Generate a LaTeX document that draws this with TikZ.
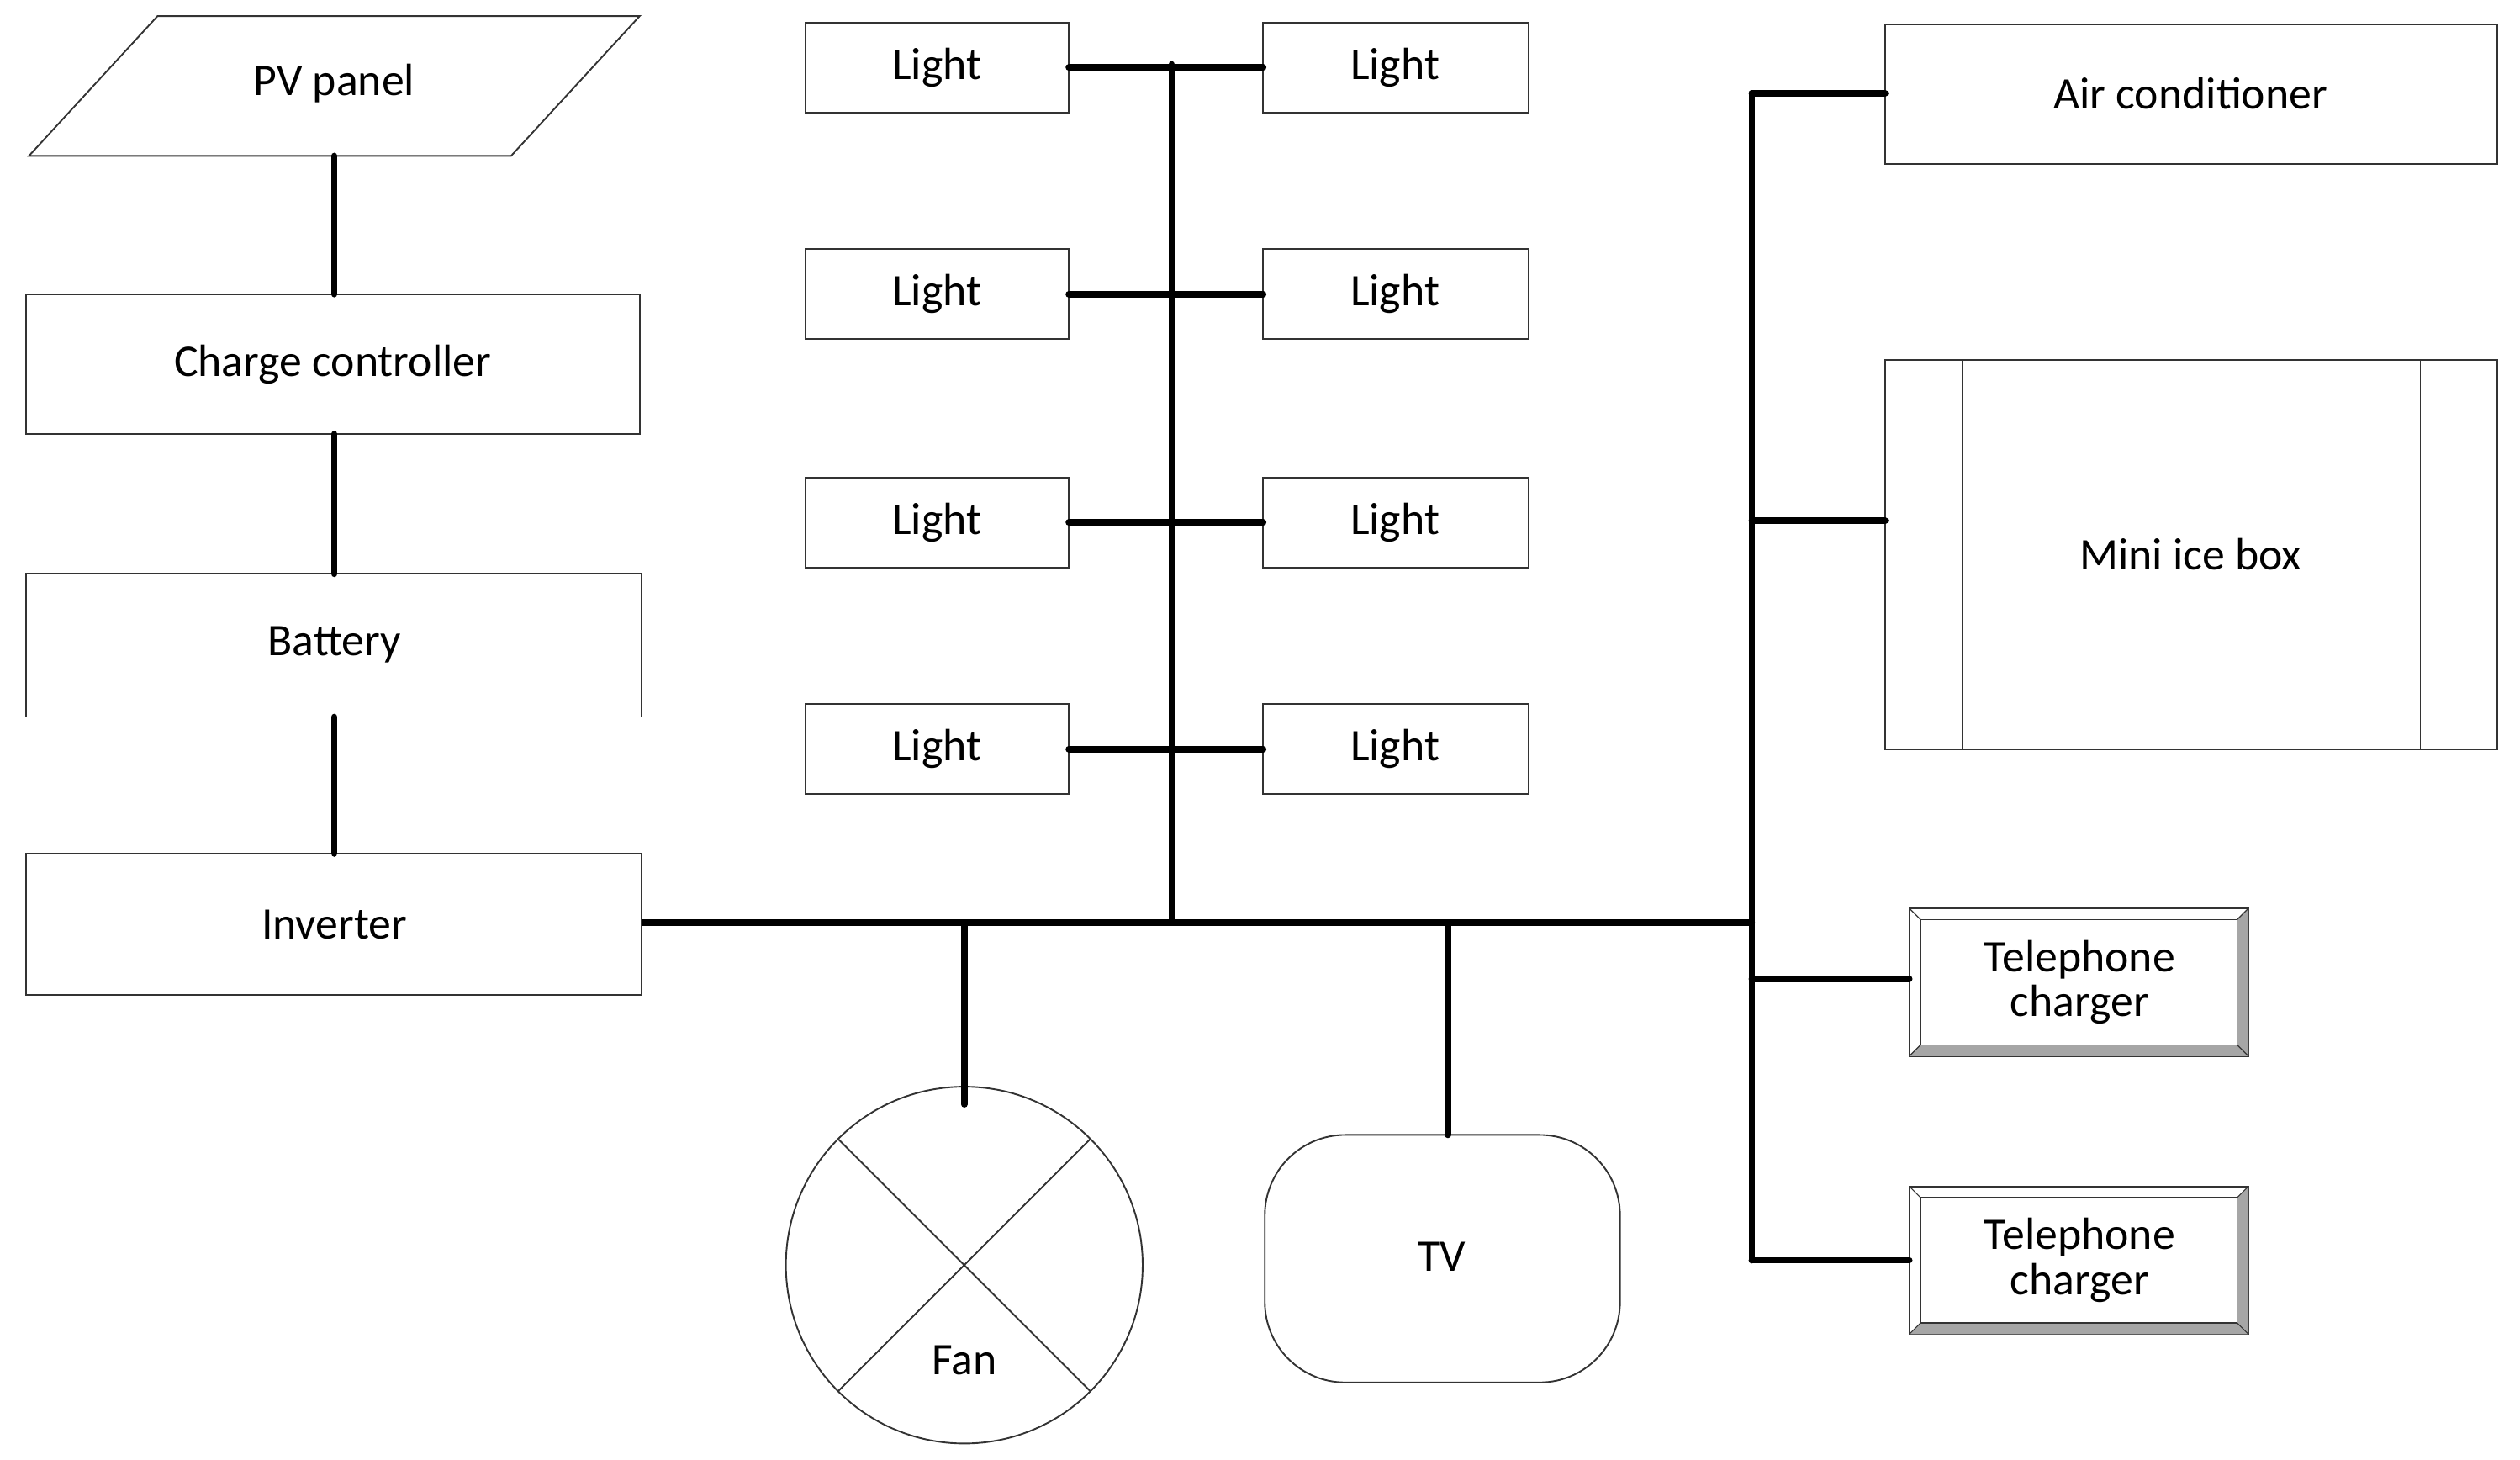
\documentclass[tikz,border=0pt]{standalone}
\usepackage{fontspec}
\setmainfont{Carlito}
\usetikzlibrary{shapes.geometric}
\begin{document}
\begin{tikzpicture}[x=0.5mm,y=-0.5mm,
  box/.style={draw=black!80,line width=0.5mm,fill=white},
  txt/.style={font=\fontsize{40}{44}\selectfont,align=center,inner sep=0},
  bus/.style={line width=2mm,line cap=round}]
\useasboundingbox (0,0) rectangle (1568,908);
% buses
\coordinate (vt) at (729,40); \coordinate (vb) at (729,574);
\coordinate (hl) at (399,574); \coordinate (hr) at (1090,574);
\coordinate (rt) at (1090,58); \coordinate (rb) at (1090,784);
\draw[bus] (vt)--(vb); \draw[bus] (hl)--(hr); \draw[bus] (rt)--(rb);
% left chain
\draw[box] (98,10)--(398,10)--(318,97)--(18,97)--cycle;
\node[txt] (pv) at (208,52) {PV panel};
\draw[box] (16,183) rectangle (398,270); \node[txt] (cc) at (207,227) {Charge controller};
\draw[box] (16,357) rectangle (399,446); \node[txt] (bat) at (208,401) {Battery};
\draw[box] (16,531) rectangle (399,619); \node[txt] (inv) at (208,575) {Inverter};
\coordinate (a1) at (208,97); \coordinate (a2) at (208,183);
\coordinate (a3) at (208,270); \coordinate (a4) at (208,357);
\coordinate (a5) at (208,446); \coordinate (a6) at (208,531);
\draw[bus] (a1)--(a2); \draw[bus] (a3)--(a4); \draw[bus] (a5)--(a6);
% lights
\foreach \i/\yt in {1/14,2/155,3/297,4/438}{
  \pgfmathsetmacro\yb{\yt+56}\pgfmathsetmacro\ym{\yt+28}
  \draw[box] (501,\yt) rectangle (665,\yb);
  \draw[box] (786,\yt) rectangle (951,\yb);
  \node[txt] (L\i) at (583,\ym) {Light};
  \node[txt] (R\i) at (868,\ym) {Light};
  \coordinate (lc\i) at (665,\ym); \coordinate (rc\i) at (786,\ym);
  \draw[bus] (lc\i)--(rc\i);
}
% right side
\draw[box] (1173,15) rectangle (1554,102); \node[txt] (ac) at (1363,58) {Air conditioner};
\draw[box] (1173,224) rectangle (1554,466);
\draw[black!80,line width=0.5mm] (1221,224)--(1221,466) (1506,224)--(1506,466);
\node[txt] (ice) at (1363,345) {Mini ice box};
\foreach \n/\yt in {t1/565,t2/738}{
  \pgfmathsetmacro\yb{\yt+92}
  \draw[box] (1188,\yt) rectangle (1399,\yb);
  \fill[black!35] (1188,\yb)--(1195,\yb-7)--(1392,\yb-7)--(1392,\yt+7)--(1399,\yt)--(1399,\yb)--cycle;
  \draw[black!80,line width=0.4mm] (1195,\yt+7) rectangle (1392,\yb-7);
  \draw[black!80,line width=0.3mm] (1188,\yt)--(1195,\yt+7) (1399,\yt)--(1392,\yt+7) (1188,\yb)--(1195,\yb-7) (1399,\yb)--(1392,\yb-7);
  \node[txt,font=\fontsize{40}{40}\selectfont] (\n) at (1294,\yt+46) {Telephone\\charger};
}
\coordinate (c1) at (1090,324); \coordinate (c1e) at (1173,324);
\coordinate (c2) at (1090,609); \coordinate (c2e) at (1188,609);
\coordinate (c3) at (1090,784); \coordinate (c3e) at (1188,784);
\coordinate (c0e) at (1173,58);
\draw[bus] (rt)--(c0e); \draw[bus] (c1)--(c1e); \draw[bus] (c2)--(c2e); \draw[bus] (c3)--(c3e);
% fan
\draw[box] (600,787) circle (111);
\draw[black!80,line width=0.5mm] (600,787) ++(45:111)--++(225:222) (600,787) ++(135:111)--++(315:222);
\node[txt] (fan) at (600,846) {Fan};
\coordinate (f1) at (600,574); \coordinate (f2) at (600,687);
\draw[bus] (f1)--(f2);
% TV
\draw[box,rounded corners=25mm] (787,706) rectangle (1008,860);
\node[txt] (tv) at (897,782) {TV};
\coordinate (t1) at (901,574); \coordinate (t2) at (901,706);
\draw[bus] (t1)--(t2);
\end{tikzpicture}
\end{document}
